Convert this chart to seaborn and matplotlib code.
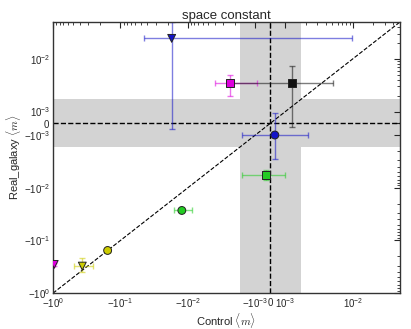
import numpy as np
import pandas as pd
import matplotlib
matplotlib.use("Agg")
import matplotlib.pyplot as plt
import seaborn as sns
from matplotlib.ticker import SymmetricalLogLocator

# ---- data ----
names   = ["blue_tri", "mag_sq", "black_sq", "blue_circ", "green_sq",
           "green_circ", "yellow_circ", "yellow_tri", "mag_tri"]
x_vals  = [-0.0174, -0.0024, 0.00125, 0.0003, -0.0003, -0.0123, -0.155, -0.368, -0.96]
y_vals  = [0.0245, 0.0035, 0.0035, -0.001, -0.0058, -0.027, -0.155, -0.307, -0.285]
x_errs  = [0.027, 0.0015, 0.0038, 0.0019, 0.0013, 0.0036, 0.01, 0.113, 0.01]
y_errs  = [0.025, 0.0015, 0.0038, 0.0019, 0.0012, 0.0, 0.01, 0.09, 0.02]
colors  = ["#1414c8", "#dd00dd", "#111111", "#1414c8", "#22cc22",
           "#22cc22", "#cccc00", "#cccc00", "#dd00dd"]
markers = ["v", "s", "s", "o", "s", "o", "o", "v", "v"]

lim_lo, lim_hi = -1.0, 0.05
linthresh = 1e-3
band_x = 0.0017
band_y = 0.0017

df = pd.DataFrame({"name": names, "x": x_vals, "y": y_vals})

sns.set_style("white")
plt.rcParams["font.family"] = ["Liberation Sans", "DejaVu Sans"]
plt.rcParams["mathtext.fontset"] = "cm"

fig = plt.figure(figsize=(4.11, 3.29), dpi=100)
ax = fig.add_axes([0.129, 0.109, 0.844, 0.824])

ax.set_xscale("symlog", linthresh=linthresh, linscale=0.2)
ax.set_yscale("symlog", linthresh=linthresh, linscale=0.2)
ax.set_xlim(lim_lo, lim_hi)
ax.set_ylim(lim_lo, lim_hi)

ax.axvspan(-band_x, band_x, color="#d3d3d3", zorder=0, lw=0)
ax.axhspan(-band_y, band_y, color="#d3d3d3", zorder=0, lw=0)
ax.axvline(0, color="k", ls="--", lw=1, zorder=1)
ax.axhline(0, color="k", ls="--", lw=1, zorder=1)
ax.plot([lim_lo, lim_hi], [lim_lo, lim_hi], color="k", ls="--", lw=0.8, zorder=1)

for xv, yv, xe, ye, c in zip(x_vals, y_vals, x_errs, y_errs, colors):
    ax.errorbar(xv, yv, xerr=xe, yerr=ye, fmt="none", ecolor=c, alpha=0.55,
                elinewidth=1, capsize=2, capthick=1, zorder=2)

sns.scatterplot(data=df, x="x", y="y", hue="name", style="name",
                palette=dict(zip(names, colors)),
                markers=dict(zip(names, markers)),
                s=32, edgecolor="#222222", linewidth=0.7, legend=False,
                ax=ax, zorder=3)

ax.xaxis.set_minor_locator(SymmetricalLogLocator(linthresh=linthresh, base=10, subs=np.arange(2, 10)))
ax.yaxis.set_minor_locator(SymmetricalLogLocator(linthresh=linthresh, base=10, subs=np.arange(2, 10)))
ax.tick_params(which="both", direction="in", top=True, right=True, labelsize=7, pad=2)
ax.tick_params(which="major", length=4, width=0.8)
ax.tick_params(which="minor", length=2, width=0.6)
for s in ax.spines.values():
    s.set_color("#333333")
    s.set_linewidth(1)

ax.set_title("space constant", fontsize=9.5, pad=2)
ax.set_xlabel(r"Control $\langle m\rangle$", fontsize=8, labelpad=1)
ax.set_ylabel(r"Real_galaxy $\langle m\rangle$", fontsize=8, labelpad=1)

fig.savefig("out.png", dpi=100)
